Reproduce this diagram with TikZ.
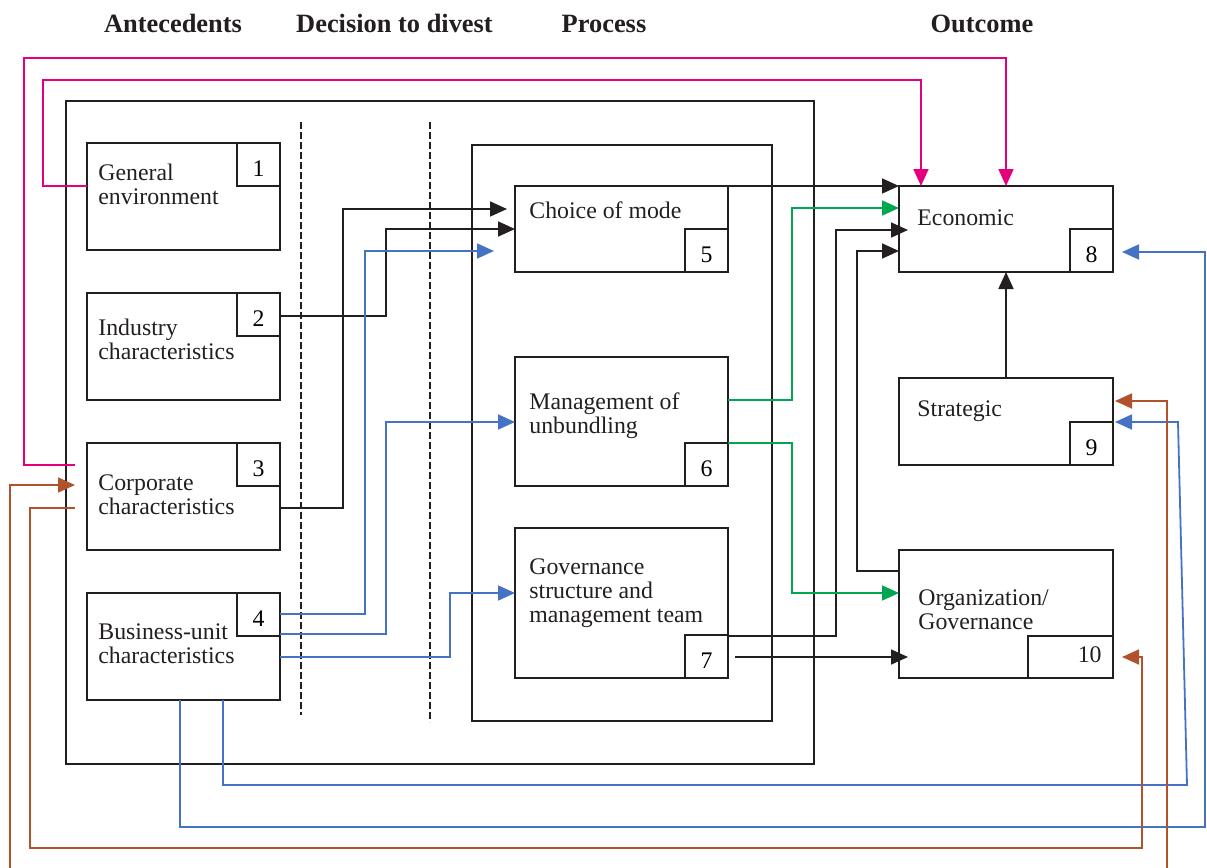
\documentclass[tikz,border=0pt]{standalone}
\usepackage{fontspec}
\setmainfont{Liberation Serif}
\usetikzlibrary{arrows.meta,calc}
\definecolor{pinkc}{RGB}{228,0,124}
\definecolor{bluec}{RGB}{68,114,196}
\definecolor{greenc}{RGB}{0,166,80}
\definecolor{brownc}{RGB}{176,82,44}
\definecolor{blackc}{RGB}{35,31,32}
\newcommand{\dvbody}{\fontsize{11.9pt}{12pt}\selectfont}
\newcommand{\dvhead}{\fontsize{13.2pt}{14pt}\selectfont\bfseries}
\begin{document}
\begin{tikzpicture}[x=0.5pt,y=-0.5pt,
  box/.style={draw=blackc, line width=1pt, inner sep=0pt, outer sep=0pt, anchor=north west},
  numbox/.style={draw=blackc, line width=1pt, inner sep=0pt, outer sep=0pt, minimum width=21.5pt, minimum height=21.5pt, text height=11.5pt, text depth=0pt, font=\dvbody},
  txt/.style={anchor=north west, inner sep=0pt, align=left, font=\dvbody, text=blackc},
  head/.style={anchor=base, inner sep=0pt, font=\dvhead, text=blackc},
  conn/.style={line width=0.9pt, -{Triangle[length=8.5pt,width=7.5pt]}},
  dashline/.style={draw=blackc, line width=1.2pt, dash pattern=on 3.3pt off 1.7pt}
]
\useasboundingbox (0,0) rectangle (1207,868);

% headers
\node[head] (h1) at (173,32) {Antecedents};
\node[head] (h2) at (394.5,32) {Decision to divest};
\node[head] (h3) at (604,32) {Process};
\node[head] (h4) at (982,32) {Outcome};

% frames
\node[box, minimum width=374pt, minimum height=331.5pt] (outer) at (66,101) {};
\node[box, minimum width=150pt, minimum height=288pt] (proc) at (472,145) {};
\draw[dashline] (301,122) -- (301,715);
\draw[dashline] (430,122) -- (430,722);

% antecedent boxes
\node[box, minimum width=96.5pt, minimum height=53.5pt] (b1) at (87,143) {};
\node[box, minimum width=96.5pt, minimum height=53.5pt] (b2) at (87,293) {};
\node[box, minimum width=96.5pt, minimum height=53.5pt] (b3) at (87,443) {};
\node[box, minimum width=96.5pt, minimum height=53.5pt] (b4) at (87,593) {};
% process boxes
\node[box, minimum width=106.5pt, minimum height=43pt] (b5) at (515,186) {};
\node[box, minimum width=106.5pt, minimum height=64.5pt] (b6) at (515,357) {};
\node[box, minimum width=106.5pt, minimum height=75pt] (b7) at (515,528) {};
% outcome boxes
\node[box, minimum width=107pt, minimum height=43pt] (b8) at (899,186) {};
\node[box, minimum width=107pt, minimum height=43.5pt] (b9) at (899,378) {};
\node[box, minimum width=107pt, minimum height=64pt] (b10) at (899,550) {};

% number boxes
\node[numbox, anchor=north east] (n1) at (b1.north east) {1};
\node[numbox, anchor=north east] (n2) at (b2.north east) {2};
\node[numbox, anchor=north east] (n3) at (b3.north east) {3};
\node[numbox, anchor=north east] (n4) at (b4.north east) {4};
\node[numbox, anchor=south east] (n5) at (b5.south east) {5};
\node[numbox, anchor=south east] (n6) at (b6.south east) {6};
\node[numbox, anchor=south east] (n7) at (b7.south east) {7};
\node[numbox, anchor=south east] (n8) at (b8.south east) {8};
\node[numbox, anchor=south east] (n9) at (b9.south east) {9};
\node[numbox, anchor=south east, minimum width=42.5pt, minimum height=21pt] (n10) at (b10.south east) {};
\node[anchor=base east, inner sep=0pt, font=\dvbody, text=blackc] (l10) at (1102,662) {10};

% box texts
\node[txt] (t1) at (98,163.2) {\strut General\\environment};
\node[txt] (t2) at (98,318.2) {\strut Industry\\characteristics};
\node[txt] (t3) at (98,473.2) {\strut Corporate\\characteristics};
\node[txt] (t4) at (98,622.2) {\strut Business-unit\\characteristics};
\node[txt] (t5) at (529,201.2) {\strut Choice of mode};
\node[txt] (t6) at (529,392.2) {\strut Management of\\unbundling};
\node[txt] (t7) at (529,557.2) {\strut Governance\\structure and\\management team};
\node[txt] (t8) at (917,208.2) {\strut Economic};
\node[txt] (t9) at (917,399.2) {\strut Strategic};
\node[txt] (t10) at (918,588.2) {\strut Organization/\\Governance};

% corner coordinates
\coordinate (pk1) at (43,80);
\coordinate (pk2) at (24,58);
\coordinate (bc1) at (1205,827);
\coordinate (bc2) at (1187,785);
\coordinate (bc3) at (1178,422);
\coordinate (rc1) at (1167,868);
\coordinate (rc2) at (10,868);
\coordinate (rc3) at (30,848);
\coordinate (rc4) at (1142,848);

% pink
\draw[pinkc, conn] ($(b1.north west)+(0,43)$) -| (pk1) -| ($(b8.north west)+(22,0)$);
\draw[pinkc, conn] ($(b3.north west)+(-12,22)$) -| (pk2) -| (b8.north);

% antecedents -> process
\draw[blackc, conn] ($(b2.north east)+(0,23)$) -- ++(106,0) |- (b5.west);
\draw[blackc, conn] ($(b3.north east)+(0,65)$) -- ++(63,0) |- ($(b5.north west)+(-8,23)$);
\draw[bluec, conn] ($(b4.north east)+(0,21)$) -- ++(85,0) |- ($(b5.north west)+(-21,65)$);
\draw[bluec, conn] ($(b4.north east)+(0,41)$) -- ++(106,0) |- ($(b6.north west)+(0,65)$);
\draw[bluec, conn] ($(b4.north east)+(0,64)$) -- ++(170,0) |- ($(b7.north west)+(0,65)$);

% process -> outcome
\draw[blackc, conn] (b5.north east) -- (b8.north west);
\draw[greenc, conn] ($(b6.north east)+(0,43)$) -- ++(64,0) |- ($(b8.north west)+(0,22)$);
\draw[blackc, conn] ($(b7.north east)+(0,108)$) -- ++(108,0) |- ($(b8.north west)+(9,44)$);
\draw[blackc, conn] ($(b10.north west)+(0,21)$) -- ++(-42,0) |- ($(b8.north west)+(0,65)$);
\draw[greenc, conn] ($(b6.north east)+(0,86)$) -- ++(64,0) |- ($(b10.north west)+(0,43)$);
\draw[blackc, conn] ($(b7.south east)+(7,-21)$) -- ($(b10.north west)+(9,107)$);
\draw[blackc, conn] (b9.north) -- (b8.south);

% business unit feedback (blue)
\draw[bluec, conn] ($(b4.south west)+(93,0)$) |- (bc1) |- ($(b8.south east)+(9,-20)$);
\draw[bluec, conn] ($(b4.south west)+(136,0)$) |- (bc2) -- (bc3) -- ($(b9.north east)+(2,44)$);

% brown
\draw[brownc, conn] (rc1) |- ($(b9.north east)+(2,23)$);
\draw[brownc, conn] (rc2) |- ($(b3.north west)+(-12,42)$);
\draw[brownc, conn] ($(b3.north west)+(-12,65)$) -| (rc3) -- (rc4) |- ($(b10.south east)+(9,-21)$);
\end{tikzpicture}
\end{document}
